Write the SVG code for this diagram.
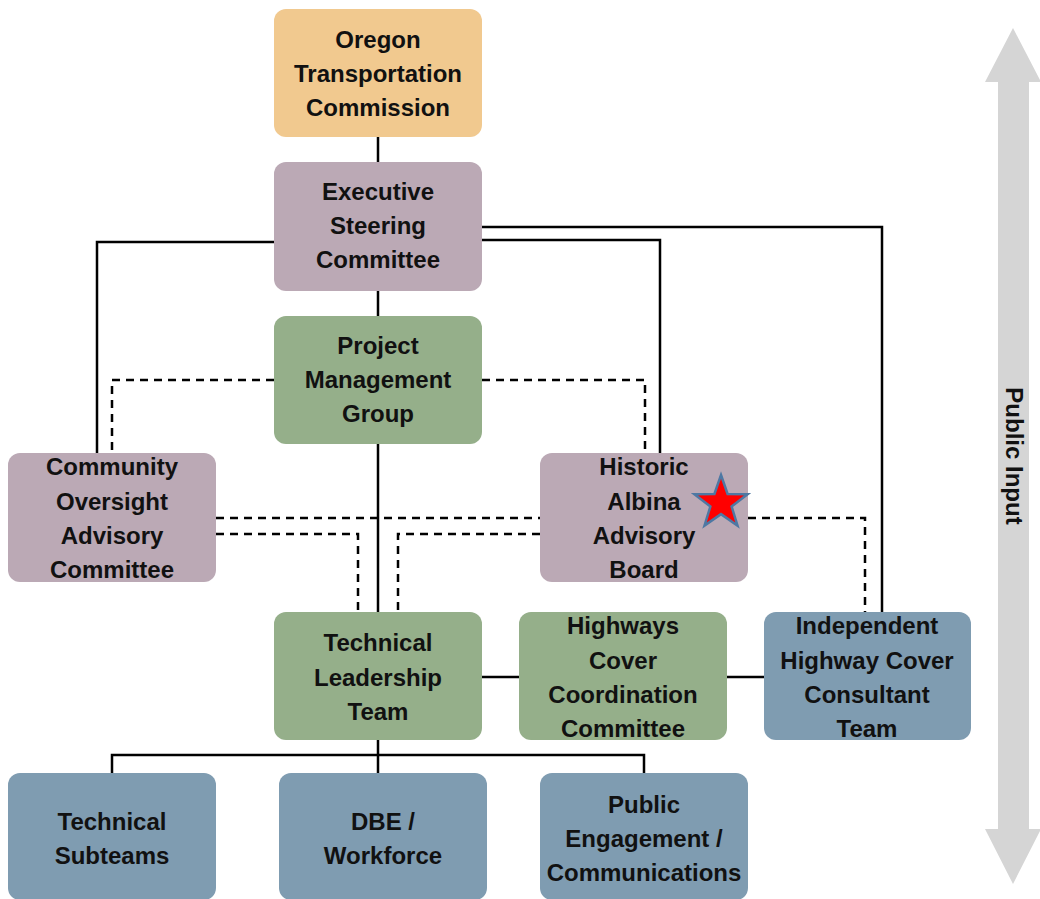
<svg xmlns="http://www.w3.org/2000/svg" width="1040" height="899" viewBox="0 0 1040 899">
<style>
.box{stroke:none}
.or{fill:#F1C98F}
.pu{fill:#BBA9B5}
.gr{fill:#95AF8A}
.bl{fill:#7F9CB1}
text{font-family:"Liberation Sans",Arial,sans-serif;font-weight:bold;font-size:24px;fill:#111;text-anchor:middle}
.s{fill:none;stroke:#000;stroke-width:2.5}
.d{fill:none;stroke:#000;stroke-width:2.5;stroke-dasharray:8 6}
</style>
<rect width="1040" height="899" fill="#fff"/>
<g id="public-input">
<polygon points="1013,28 1041,82 1029,82 1029,829 1041,829 1013,884 985,829 998,829 998,82 985,82" fill="#D5D5D5"/>
<text transform="translate(1006,456) rotate(90)" x="0" y="0">Public Input</text>
</g>
<g id="connectors">
<path class="s" d="M378,137V162M378,291V316M274,242H97V453M482,240H660V453M482,227H882V612M378,444V612M482,677H519M727,677H764M378,740V755M112,773V755H644V773M378,755V773"/>
<path class="d" d="M274,380H112V453M482,380H645V453M216,518H540M216,534H358V612M540,534H398V612M748,518H865V612"/>
</g>
<g id="otc"><rect class="box or" x="274" y="9" width="208" height="128" rx="12"/>
<text x="378" y="48">Oregon</text><text x="378" y="82">Transportation</text><text x="378" y="116">Commission</text></g>
<g id="esc"><rect class="box pu" x="274" y="162" width="208" height="129" rx="12"/>
<text x="378" y="200">Executive</text><text x="378" y="234">Steering</text><text x="378" y="268">Committee</text></g>
<g id="pmg"><rect class="box gr" x="274" y="316" width="208" height="128" rx="12"/>
<text x="378" y="354">Project</text><text x="378" y="388">Management</text><text x="378" y="422">Group</text></g>
<g id="coac"><rect class="box pu" x="8" y="453" width="208" height="129" rx="12"/>
<text x="112" y="475">Community</text><text x="112" y="510">Oversight</text><text x="112" y="544">Advisory</text><text x="112" y="578">Committee</text></g>
<g id="haab"><rect class="box pu" x="540" y="453" width="208" height="129" rx="12"/>
<text x="644" y="475">Historic</text><text x="644" y="510">Albina</text><text x="644" y="544">Advisory</text><text x="644" y="578">Board</text>
<polygon points="721,475 727.6,494 747.6,494.3 731.6,506.4 737.5,525.6 721,514.1 704.5,525.6 710.4,506.4 694.4,494.3 714.4,494" fill="#FF0000" stroke="#4E78A3" stroke-width="2.5" stroke-linejoin="miter"/></g>
<g id="tlt"><rect class="box gr" x="274" y="612" width="208" height="128" rx="12"/>
<text x="378" y="651">Technical</text><text x="378" y="686">Leadership</text><text x="378" y="720">Team</text></g>
<g id="hccc"><rect class="box gr" x="519" y="612" width="208" height="128" rx="12"/>
<text x="623" y="634">Highways</text><text x="623" y="669">Cover</text><text x="623" y="703">Coordination</text><text x="623" y="737">Committee</text></g>
<g id="ihcct"><rect class="box bl" x="764" y="612" width="207" height="128" rx="12"/>
<text x="867" y="634">Independent</text><text x="867" y="669">Highway Cover</text><text x="867" y="703">Consultant</text><text x="867" y="737">Team</text></g>
<g id="ts"><rect class="box bl" x="8" y="773" width="208" height="127" rx="12"/>
<text x="112" y="830">Technical</text><text x="112" y="864">Subteams</text></g>
<g id="dbe"><rect class="box bl" x="279" y="773" width="208" height="127" rx="12"/>
<text x="383" y="830">DBE /</text><text x="383" y="864">Workforce</text></g>
<g id="pe"><rect class="box bl" x="540" y="773" width="208" height="127" rx="12"/>
<text x="644" y="813">Public</text><text x="644" y="847">Engagement /</text><text x="644" y="881">Communications</text></g>
</svg>
